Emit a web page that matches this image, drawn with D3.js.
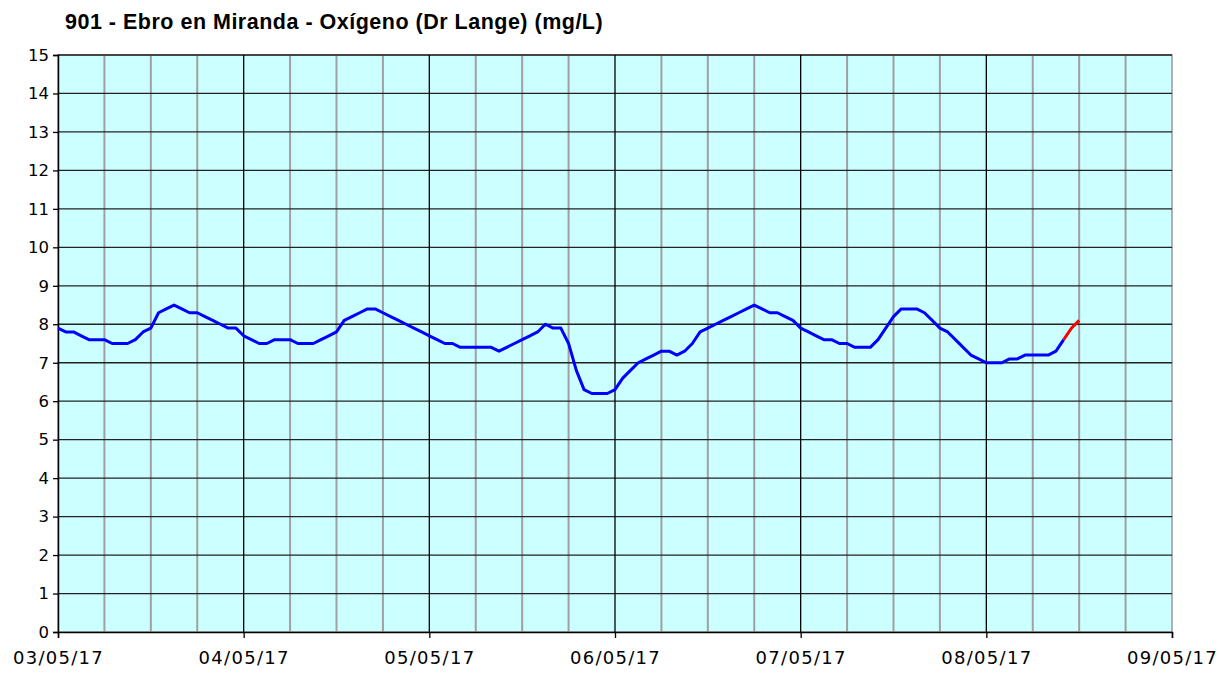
<!DOCTYPE html>
<html>
<head>
<meta charset="utf-8">
<script src="https://cdn.jsdelivr.net/npm/d3@7"></script>
<style>
  body { margin: 0; background: #fff; }
  svg text { font-family: "DejaVu Sans", Verdana, sans-serif; }
</style>
</head>
<body>
<div id="chart"></div>
<script>
// hourly readings, mg/L, starting 03/05/17 00:00
const day1 = [7.9, 7.8, 7.8, 7.7, 7.6, 7.6, 7.6, 7.5, 7.5, 7.5, 7.6, 7.8, 7.9, 8.3, 8.4, 8.5, 8.4, 8.3, 8.3, 8.2, 8.1, 8.0, 7.9, 7.9];
const day2 = [7.7, 7.6, 7.5, 7.5, 7.6, 7.6, 7.6, 7.5, 7.5, 7.5, 7.6, 7.7, 7.8, 8.1, 8.2, 8.3, 8.4, 8.4, 8.3, 8.2, 8.1, 8.0, 7.9, 7.8];
const day3 = [7.7, 7.6, 7.5, 7.5, 7.4, 7.4, 7.4, 7.4, 7.4, 7.3, 7.4, 7.5, 7.6, 7.7, 7.8, 8.0, 7.9, 7.9, 7.5, 6.8, 6.3, 6.2, 6.2, 6.2];
const day4 = [6.3, 6.6, 6.8, 7.0, 7.1, 7.2, 7.3, 7.3, 7.2, 7.3, 7.5, 7.8, 7.9, 8.0, 8.1, 8.2, 8.3, 8.4, 8.5, 8.4, 8.3, 8.3, 8.2, 8.1];
const day5 = [7.9, 7.8, 7.7, 7.6, 7.6, 7.5, 7.5, 7.4, 7.4, 7.4, 7.6, 7.9, 8.2, 8.4, 8.4, 8.4, 8.3, 8.1, 7.9, 7.8, 7.6, 7.4, 7.2, 7.1];
const day6 = [7.0, 7.0, 7.0, 7.1, 7.1, 7.2, 7.2, 7.2, 7.2, 7.3, 7.6];
// last readings drawn in red (08/05/17 10:00 - 12:00)
const lastValues = [7.6, 7.9, 8.1];

const yTicks = d3.range(0, 16);
const dayLabels = ["03/05/17", "04/05/17", "05/05/17", "06/05/17", "07/05/17", "08/05/17", "09/05/17"];
const title = "901 - Ebro en Miranda - Oxígeno (Dr Lange) (mg/L)";

const start = new Date(2017, 4, 3);
const hour = 3600 * 1000;

const values = [].concat(day1, day2, day3, day4, day5, day6);
const blue = values.map((v, i) => ({ t: new Date(+start + i * hour), v: v }));
const redStart = values.length - 1;
const red = lastValues.map((v, i) => ({ t: new Date(+start + (redStart + i) * hour), v: v }));

const width = 1232, height = 673;
const margin = { top: 55, right: 60, bottom: 41, left: 58 };

const svg = d3.select('#chart')
  .append('svg')
  .attr('width', width)
  .attr('height', height);

const x = d3.scaleTime()
  .domain([start, new Date(2017, 4, 9)])
  .range([margin.left, width - margin.right]);

const y = d3.scaleLinear()
  .domain([0, 15])
  .range([height - margin.bottom, margin.top]);

// plot background
svg.append('rect')
  .attr('x', x.range()[0])
  .attr('y', y(15))
  .attr('width', x.range()[1] - x.range()[0])
  .attr('height', y(0) - y(15))
  .attr('fill', '#ccffff')
  .attr('stroke', '#999')
  .attr('stroke-width', 1.5);

// vertical grid every 6 hours, darker on days
const quarters = d3.timeHour.every(6).range(start, new Date(2017, 4, 9, 1));
svg.append('g')
  .selectAll('line')
  .data(quarters.filter(d => d.getHours() != 0))
  .join('line')
  .attr('x1', d => x(d)).attr('x2', d => x(d))
  .attr('y1', y(0)).attr('y2', y(15))
  .attr('stroke', '#a0a0a0')
  .attr('stroke-width', 2);

svg.append('g')
  .selectAll('line')
  .data(yTicks.slice(1))
  .join('line')
  .attr('x1', x.range()[0]).attr('x2', x.range()[1])
  .attr('y1', d => y(d)).attr('y2', d => y(d))
  .attr('stroke', '#222')
  .attr('stroke-width', 1.3);

const days = d3.timeDay.range(d3.timeDay.offset(start, 1), new Date(2017, 4, 9));
svg.append('g')
  .selectAll('line')
  .data(days)
  .join('line')
  .attr('x1', d => x(d)).attr('x2', d => x(d))
  .attr('y1', y(0)).attr('y2', y(15))
  .attr('stroke', '#000')
  .attr('stroke-width', 1.3);

// axes
const yAxis = svg.append('g')
  .attr('transform', `translate(${margin.left},0)`)
  .call(d3.axisLeft(y).tickValues(yTicks).tickSize(5).tickPadding(4).tickFormat(d3.format('d')));

const xAxis = svg.append('g')
  .attr('transform', `translate(0,${y(0)})`)
  .call(d3.axisBottom(x).ticks(d3.timeDay.every(1)).tickSize(6).tickPadding(13)
    .tickFormat((d, i) => dayLabels[i]));

[yAxis, xAxis].forEach(a => {
  a.select('.domain').attr('stroke', '#000').attr('stroke-width', 1.5);
  a.selectAll('.tick line').attr('stroke', '#000').attr('stroke-width', 1.3);
  a.selectAll('text').attr('fill', '#000');
});
yAxis.selectAll('text').style('font-size', '16.5px');
xAxis.selectAll('text').style('font-size', '18px').style('letter-spacing', '1.3px');

// series
const line = d3.line()
  .x(d => x(d.t))
  .y(d => y(d.v));

svg.append('path')
  .datum(blue)
  .attr('fill', 'none')
  .attr('stroke', '#0000ff')
  .attr('stroke-width', 3)
  .attr('stroke-linejoin', 'round')
  .attr('d', line);

svg.append('path')
  .datum(red)
  .attr('fill', 'none')
  .attr('stroke', '#ff0000')
  .attr('stroke-width', 3)
  .attr('d', line);

svg.append('text')
  .attr('x', 65)
  .attr('y', 29)
  .style('font-family', '"Liberation Sans", Arial, sans-serif')
  .style('font-weight', 'bold')
  .style('font-size', '21.5px')
  .style('letter-spacing', '0.5px')
  .text(title);
</script>
</body>
</html>
